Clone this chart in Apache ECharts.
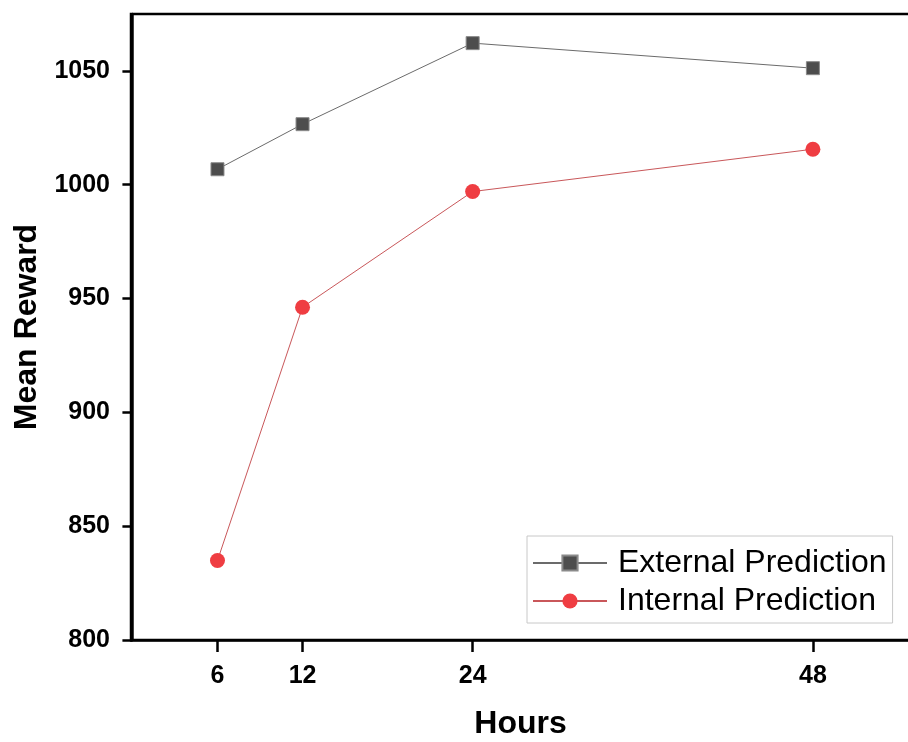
<!DOCTYPE html>
<html>
<head>
<meta charset="utf-8">
<script src="https://cdn.jsdelivr.net/npm/echarts@6/dist/echarts.min.js"></script>
<style>
  html, body { margin: 0; padding: 0; background: #fff; }
  #chart { width: 908px; height: 742px; }
</style>
</head>
<body>
<div id="chart"></div>
<script>
// data
const hours = [6, 12, 24, 48];
const externalPrediction = [1006.8, 1026.6, 1062.2, 1051.2];
const internalPrediction = [834.9, 946.2, 997.0, 1015.6];
const hourTicks = [6, 12, 24, 48];
const rewardTicks = [800, 850, 900, 950, 1000, 1050];

const pairs = (xs, ys) => xs.map((x, i) => [x, ys[i]]);

const tickFont = {
  color: '#000',
  fontFamily: 'Liberation Sans',
  fontWeight: 'bold',
  fontSize: 25
};
const nameFont = {
  color: '#000',
  fontFamily: 'Liberation Sans',
  fontWeight: 'bold',
  fontSize: 32
};

const chart = echarts.init(document.getElementById('chart'));
chart.setOption({
  animation: false,
  backgroundColor: '#fff',
  grid: {
    left: 131,
    right: -2,
    top: 14,
    bottom: 102,
    containLabel: false,
    outerBoundsMode: 'none',
    show: true,
    borderColor: '#000',
    borderWidth: 2.5
  },
  legend: {
    orient: 'vertical',
    left: 527,
    top: 536,
    padding: [11, 6, 6, 5],
    itemGap: 6,
    itemWidth: 74,
    itemHeight: 19,
    borderColor: '#c8c8c8',
    borderWidth: 1,
    backgroundColor: '#fff',
    textStyle: {
      color: '#000',
      fontFamily: 'Liberation Sans',
      fontSize: 32,
      padding: [0, 0, 0, 6]
    },
    data: ['External Prediction', 'Internal Prediction']
  },
  xAxis: {
    type: 'value',
    min: -0.1,
    max: 54.85,
    name: 'Hours',
    nameLocation: 'middle',
    nameGap: 68,
    nameTextStyle: nameFont,
    splitLine: { show: false },
    axisLine: { show: true, lineStyle: { color: '#000', width: 2.5 } },
    axisTick: {
      show: true,
      customValues: hourTicks,
      length: 12,
      lineStyle: { color: '#000', width: 2.5 }
    },
    axisLabel: Object.assign({ customValues: hourTicks, margin: 24, formatter: v => String(v) }, tickFont)
  },
  yAxis: {
    type: 'value',
    min: 800,
    max: 1075,
    name: 'Mean Reward',
    nameLocation: 'middle',
    nameGap: 88,
    nameTextStyle: nameFont,
    splitLine: { show: false },
    axisLine: { show: true, lineStyle: { color: '#000', width: 2.5 } },
    axisTick: {
      show: true,
      customValues: rewardTicks,
      length: 10,
      lineStyle: { color: '#000', width: 2.5 }
    },
    axisLabel: Object.assign({ customValues: rewardTicks, margin: 21, formatter: v => String(v) }, tickFont)
  },
  series: [
    {
      name: 'External Prediction',
      type: 'line',
      data: pairs(hours, externalPrediction),
      symbol: 'rect',
      symbolSize: 13,
      itemStyle: { color: '#4d4d4d', borderColor: '#8a8a8a', borderWidth: 1 },
      lineStyle: { color: '#6b6b6b', width: 1 }
    },
    {
      name: 'Internal Prediction',
      type: 'line',
      data: pairs(hours, internalPrediction),
      symbol: 'circle',
      symbolSize: 15,
      itemStyle: { color: '#ef3d42', borderColor: '#ef3d42', borderWidth: 0 },
      lineStyle: { color: '#c9575a', width: 1 }
    }
  ]
});
</script>
</body>
</html>
